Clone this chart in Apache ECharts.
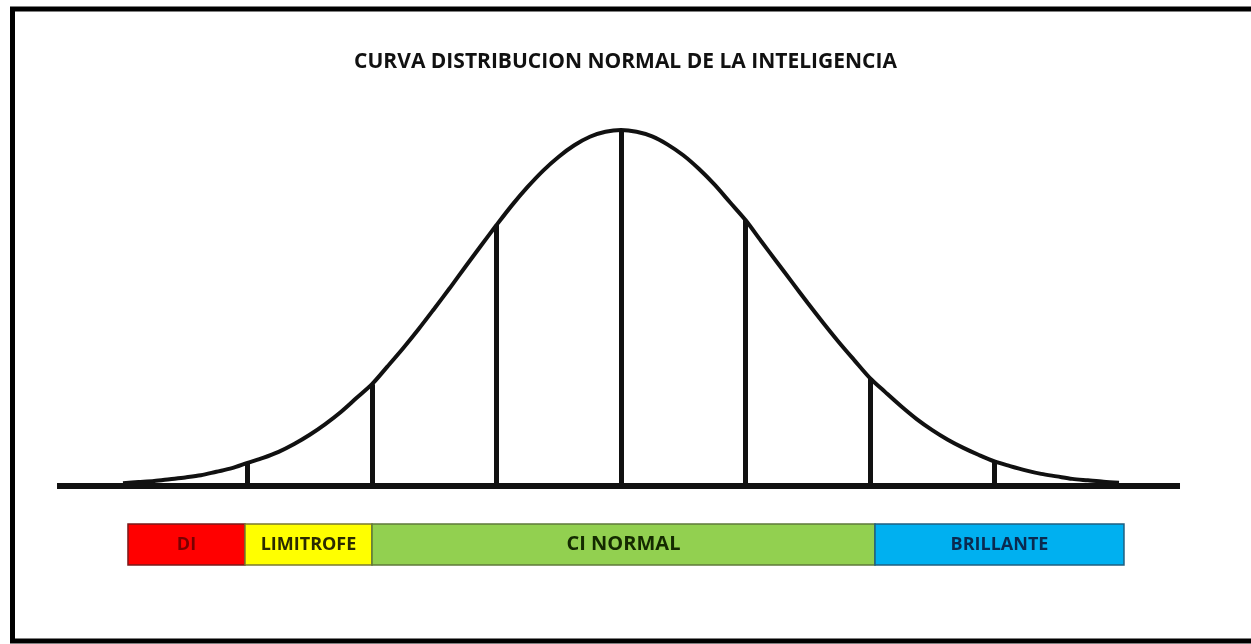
<!DOCTYPE html>
<html>
<head>
<meta charset="utf-8">
<script src="https://cdn.jsdelivr.net/npm/echarts@6/dist/echarts.min.js"></script>
<style>
html,body{margin:0;padding:0;background:#fff;}
#chart{width:1251px;height:644px;}
</style>
</head>
<body>
<div id="chart"></div>
<script>
// ---- data (x in standard deviations, y in % of peak height) ----
const chartTitle = 'CURVA DISTRIBUCION NORMAL DE LA INTELIGENCIA';
const curveZ = [
  -4,-3.875,-3.75,-3.625,-3.5,-3.375,-3.25,-3.125,-3,-2.875,-2.75,-2.625,-2.5,-2.375,-2.25,-2.125,
  -2,-1.875,-1.75,-1.625,-1.5,-1.375,-1.25,-1.125,-1,-0.875,-0.75,-0.625,-0.5,-0.375,-0.25,-0.125,
  0,0.125,0.25,0.375,0.5,0.625,0.75,0.875,1,1.125,1.25,1.375,1.5,1.625,1.75,1.875,
  2,2.125,2.25,2.375,2.5,2.625,2.75,2.875,3,3.125,3.25,3.375,3.5,3.625,3.75,3.875,4
];
const curveHeight = [
  0.8,1.1,1.4,1.9,2.4,3.0,4.0,5.0,6.5,7.9,9.6,11.8,14.4,17.4,20.8,24.7,
  28.6,33.6,38.7,44.1,49.8,55.6,61.6,67.5,73.3,78.9,84.0,88.6,92.5,95.7,98.1,99.5,
  100,99.5,98.2,95.9,92.9,89.1,84.7,79.7,74.7,68.8,63.0,57.2,51.4,45.8,40.4,35.3,
  30.3,26.3,22.4,18.8,15.7,13.0,10.7,8.7,6.9,5.6,4.4,3.4,2.7,2.0,1.6,1.2,0.9
];
const dividerZ = [-3,-2,-1,0,1,2,3];
const dividerHeight = [6.5,28.6,73.3,100,74.7,30.3,6.9];
const baselineRange = [-4.53, 4.49];
const bandNames = ['DI','LIMITROFE','CI NORMAL','BRILLANTE'];
const bandStart = [-3.96,-3.02,-2.0,2.04];
const bandEnd = [-3.02,-2.0,2.04,4.04];
const bandTop = -10.7;
const bandBottom = -22.2;

// ---- styling ----
const bandFill = ['#ff0000','#ffff00','#92d050','#00b0f0'];
const bandBorder = ['#7a1a1a','#7a7a30','#5f7a3a','#1f5f80'];
const bandText = ['#7a0000','#2a2a00','#142a00','#0a2a50'];
const bandFont = [18,18,20,18];

const chart = echarts.init(document.getElementById('chart'), null, {renderer:'canvas'});

const curveData = curveZ.map((z,i)=>[z, curveHeight[i]]);
const dividerLines = dividerZ.map((z,i)=>[{coord:[z,0]},{coord:[z,dividerHeight[i]]}]);
const bandAreas = bandNames.map((n,i)=>[
  {name:n, coord:[bandStart[i], bandTop],
   itemStyle:{color:bandFill[i], borderColor:bandBorder[i], borderWidth:1.5},
   label:{color:bandText[i], fontSize:bandFont[i]}},
  {coord:[bandEnd[i], bandBottom]}
]);

chart.setOption({
  animation:false,
  backgroundColor:'#ffffff',
  title:{
    text:chartTitle, left:'center', top:47,
    textStyle:{fontFamily:'Open Sans', fontWeight:'bold', fontSize:21, color:'#111'}
  },
  graphic:[{
    type:'rect', z:100, silent:true,
    shape:{x:12.5, y:9, width:1260, height:632},
    style:{fill:'none', stroke:'#000', lineWidth:5}
  }],
  grid:{left:48.3, width:1145.4, top:130, height:462.8},
  xAxis:{type:'value', min:-4.6, max:4.6, show:false},
  yAxis:{type:'value', min:-30, max:100, show:false},
  series:[
    {
      type:'line', data:curveData, smooth:0.3, showSymbol:false, clip:false,
      lineStyle:{color:'#111', width:4},
      markLine:{
        silent:true, symbol:['none','none'], label:{show:false},
        lineStyle:{color:'#111', width:5, type:'solid'},
        data: dividerLines.concat([[
          {coord:[baselineRange[0],0], lineStyle:{width:6}},
          {coord:[baselineRange[1],0]}
        ]])
      },
      markArea:{
        silent:true,
        label:{show:true, position:'inside', fontFamily:'Open Sans', fontWeight:'bold'},
        data: bandAreas
      }
    }
  ]
});
</script>
</body>
</html>
